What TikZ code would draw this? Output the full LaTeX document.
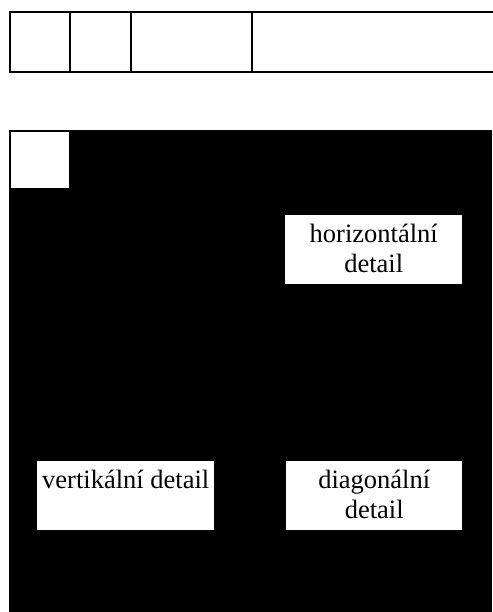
\documentclass[tikz,border=0pt]{standalone}
\usepackage{fontspec}
\setmainfont{Liberation Serif}
\tikzset{
  cell/.style={draw=black, line width=1.3pt},
  whitebox/.style={fill=white, draw=none, inner sep=0pt, anchor=north west},
  boxtext/.style={anchor=north, inner sep=0pt, align=center, font=\fontsize{26.5}{30}\selectfont},
}
\begin{document}
\begin{tikzpicture}[x=1pt,y=-1pt]
\useasboundingbox (0,0) rectangle (492,612);
% top bar
\draw[cell] (10,12) rectangle (496,72);
\draw[cell] (70,12) -- (70,72);
\draw[cell] (131,12) -- (131,72);
\draw[cell] (252,12) -- (252,72);
% black field
\fill[black] (9,130) rectangle (492,612);
\node[whitebox, minimum width=58pt, minimum height=56pt] (ll) at (11,132) {};
\node[whitebox, minimum width=177pt, minimum height=69pt] (hd) at (285,215) {};
\node[whitebox, minimum width=177pt, minimum height=69pt] (vd) at (37,461) {};
\node[whitebox, minimum width=176pt, minimum height=69pt] (dd) at (286,461) {};
\node[boxtext] (hdt) at ([yshift=-9pt]hd.north) {horizontální\\detail};
\node[boxtext] (vdt) at ([yshift=-9pt]vd.north) {vertikální detail};
\node[boxtext] (ddt) at ([yshift=-9pt]dd.north) {diagonální\\detail};
\end{tikzpicture}
\end{document}
